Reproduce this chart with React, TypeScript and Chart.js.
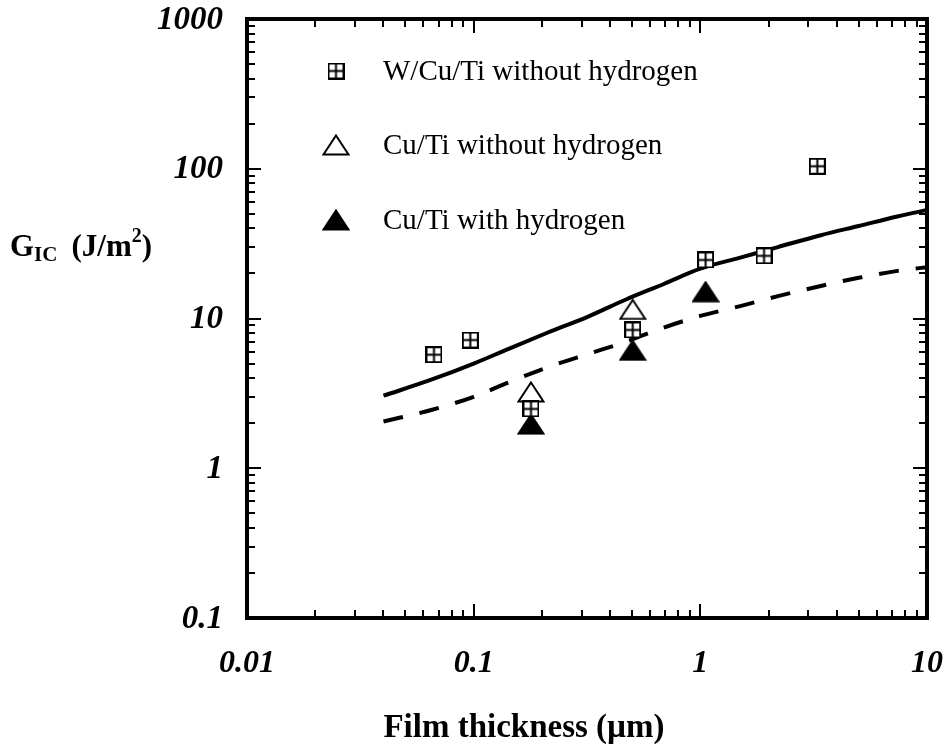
import React, { useEffect, useRef } from 'react';
import { Chart, registerables } from 'chart.js';
Chart.register(...registerables);

// Data
const wcutiX = [0.0668, 0.0966, 0.179, 0.503, 1.055, 1.91, 3.28];
const wcutiY = [5.73, 7.18, 2.49, 8.38, 24.6, 26.2, 104];
const cutiOpenX = [0.179, 0.503];
const cutiOpenY = [3.23, 11.5];
const cutiHX = [0.179, 0.503, 1.055];
const cutiHY = [1.97, 6.13, 15.1];
const curveX = [0.04, 0.065, 0.1, 0.14, 0.21, 0.32, 0.47, 0.69, 1.0, 1.5, 2.2, 3.4, 5, 7.4, 10];
const solidY = [3.05, 3.9, 5.0, 6.2, 8.0, 10.3, 13.4, 17, 21.5, 25.5, 30, 36, 41.5, 48, 53];
const dashY = [2.05, 2.45, 3.0, 3.7, 4.7, 5.8, 7.0, 8.7, 10.4, 12.1, 14.1, 16.5, 18.7, 20.8, 22];
const xTickLabels = ['0.01', '0.1', '1', '10'];
const yTickLabels = ['0.1', '1', '10', '100', '1000'];
const legendLabels = ['W/Cu/Ti without hydrogen', 'Cu/Ti without hydrogen', 'Cu/Ti with hydrogen'];
const xTitle = 'Film thickness (\u00b5m)';

const SERIF = '"Liberation Serif", "Times New Roman", serif';

function makeBoxCross(): HTMLCanvasElement {
  const c = document.createElement('canvas');
  c.width = 17; c.height = 17;
  const g = c.getContext('2d')!;
  g.fillStyle = '#fff';
  g.fillRect(0, 0, 17, 17);
  g.strokeStyle = '#000';
  g.lineWidth = 2;
  g.strokeRect(1, 1, 15, 15);
  g.beginPath();
  g.moveTo(8.5, 1); g.lineTo(8.5, 16);
  g.moveTo(1, 8.5); g.lineTo(16, 8.5);
  g.stroke();
  return c;
}

function makeTriangle(filled: boolean): HTMLCanvasElement {
  const c = document.createElement('canvas');
  c.width = 28; c.height = 22;
  const g = c.getContext('2d')!;
  g.beginPath();
  g.moveTo(14, 1.5);
  g.lineTo(26.5, 20.5);
  g.lineTo(1.5, 20.5);
  g.closePath();
  g.fillStyle = filled ? '#000' : '#fff';
  g.fill();
  g.strokeStyle = '#000';
  g.lineWidth = 2;
  g.lineJoin = 'miter';
  g.stroke();
  return c;
}

const zip = (xs: number[], ys: number[]) => xs.map((x, i) => ({ x, y: ys[i] }));

export default function App() {
  const ref = useRef<HTMLCanvasElement | null>(null);

  useEffect(() => {
    document.body.style.margin = '0';
    const box = makeBoxCross();
    const triOpen = makeTriangle(false);
    const triFill = makeTriangle(true);

    const framePlugin = {
      id: 'frameAndText',
      afterDraw(chart: any) {
        const ctx = chart.ctx as CanvasRenderingContext2D;
        const { left, right, top, bottom } = chart.chartArea;
        const xs = chart.scales.x;
        const ys = chart.scales.y;
        ctx.save();
        ctx.strokeStyle = '#000';
        ctx.fillStyle = '#000';
        // ticks
        ctx.lineWidth = 2;
        ctx.beginPath();
        for (let d = -1; d <= 2; d++) {
          for (let m = 1; m <= 9; m++) {
            const v = m * Math.pow(10, d);
            const py = Math.round(ys.getPixelForValue(v));
            const len = m === 1 ? 14 : 8;
            ctx.moveTo(left, py); ctx.lineTo(left + len, py);
            ctx.moveTo(right, py); ctx.lineTo(right - len, py);
          }
        }
        for (let d = -2; d <= 0; d++) {
          for (let m = 1; m <= 9; m++) {
            const v = m * Math.pow(10, d);
            const px = Math.round(xs.getPixelForValue(v));
            const len = m === 1 ? 14 : 8;
            ctx.moveTo(px, bottom); ctx.lineTo(px, bottom - len);
            ctx.moveTo(px, top); ctx.lineTo(px, top + len);
          }
        }
        ctx.stroke();
        // frame
        ctx.lineWidth = 4;
        ctx.strokeRect(left, top, right - left, bottom - top);

        // tick labels
        ctx.font = `italic bold 33px ${SERIF}`;
        ctx.textAlign = 'right';
        ctx.textBaseline = 'middle';
        yTickLabels.forEach((t) => {
          ctx.fillText(t, left - 24, ys.getPixelForValue(parseFloat(t)) + 1);
        });
        ctx.font = `italic bold 32px ${SERIF}`;
        ctx.textAlign = 'center';
        xTickLabels.forEach((t) => {
          ctx.fillText(t, xs.getPixelForValue(parseFloat(t)), bottom + 46);
        });

        // x title
        ctx.font = `bold 33px ${SERIF}`;
        ctx.textAlign = 'center';
        ctx.textBaseline = 'alphabetic';
        ctx.fillText(xTitle, 524, 737);

        // y title G_IC (J/m^2)
        ctx.textAlign = 'left';
        let x = 10;
        const base = 256;
        ctx.font = `bold 31px ${SERIF}`;
        ctx.fillText('G', x, base);
        x += ctx.measureText('G').width;
        ctx.font = `bold 21px ${SERIF}`;
        ctx.fillText('IC', x, base + 5);
        x += ctx.measureText('IC').width + 14;
        ctx.font = `bold 31px ${SERIF}`;
        ctx.fillText('(J/m', x, base);
        x += ctx.measureText('(J/m').width;
        ctx.font = `bold 20px ${SERIF}`;
        ctx.fillText('2', x, base - 14);
        x += ctx.measureText('2').width;
        ctx.font = `bold 31px ${SERIF}`;
        ctx.fillText(')', x, base);

        // legend
        const icons = [box, triOpen, triFill];
        const ly = [71, 145, 220];
        ctx.font = `29px ${SERIF}`;
        ctx.textBaseline = 'middle';
        icons.forEach((ic, i) => {
          ctx.drawImage(ic, 336 - ic.width / 2, ly[i] - ic.height / 2);
          ctx.fillText(legendLabels[i], 383, ly[i] + 1);
        });
        ctx.restore();
      },
    };

    const chart = new Chart(ref.current!, {
      type: 'scatter',
      data: {
        datasets: [
          {
            type: 'scatter',
            label: legendLabels[0],
            data: zip(wcutiX, wcutiY),
            pointStyle: box as any,
            order: 1,
          },
          {
            type: 'scatter',
            label: legendLabels[1],
            data: zip(cutiOpenX, cutiOpenY),
            pointStyle: triOpen as any,
            order: 1,
          },
          {
            type: 'scatter',
            label: legendLabels[2],
            data: zip(cutiHX, cutiHY),
            pointStyle: triFill as any,
            order: 1,
          },
          {
            type: 'line',
            label: 'model (solid)',
            data: zip(curveX, solidY),
            borderColor: '#000',
            borderWidth: 4,
            pointRadius: 0,
            cubicInterpolationMode: 'monotone',
            fill: false,
            order: 10,
          },
          {
            type: 'line',
            label: 'model (dashed)',
            data: zip(curveX, dashY),
            borderColor: '#000',
            borderWidth: 4,
            borderDash: [20, 17],
            pointRadius: 0,
            cubicInterpolationMode: 'monotone',
            fill: false,
            order: 10,
          },
        ] as any,
      },
      options: {
        responsive: false,
        animation: false,
        layout: { padding: { left: 247, right: 18, top: 19, bottom: 126 } },
        plugins: { legend: { display: false }, tooltip: { enabled: false } },
        scales: {
          x: { type: 'logarithmic', min: 0.01, max: 10, display: false },
          y: { type: 'logarithmic', min: 0.1, max: 1000, display: false },
        },
      },
      plugins: [framePlugin],
    });
    return () => chart.destroy();
  }, []);

  return <canvas ref={ref} width={945} height={744} style={{ display: 'block' }} />;
}
